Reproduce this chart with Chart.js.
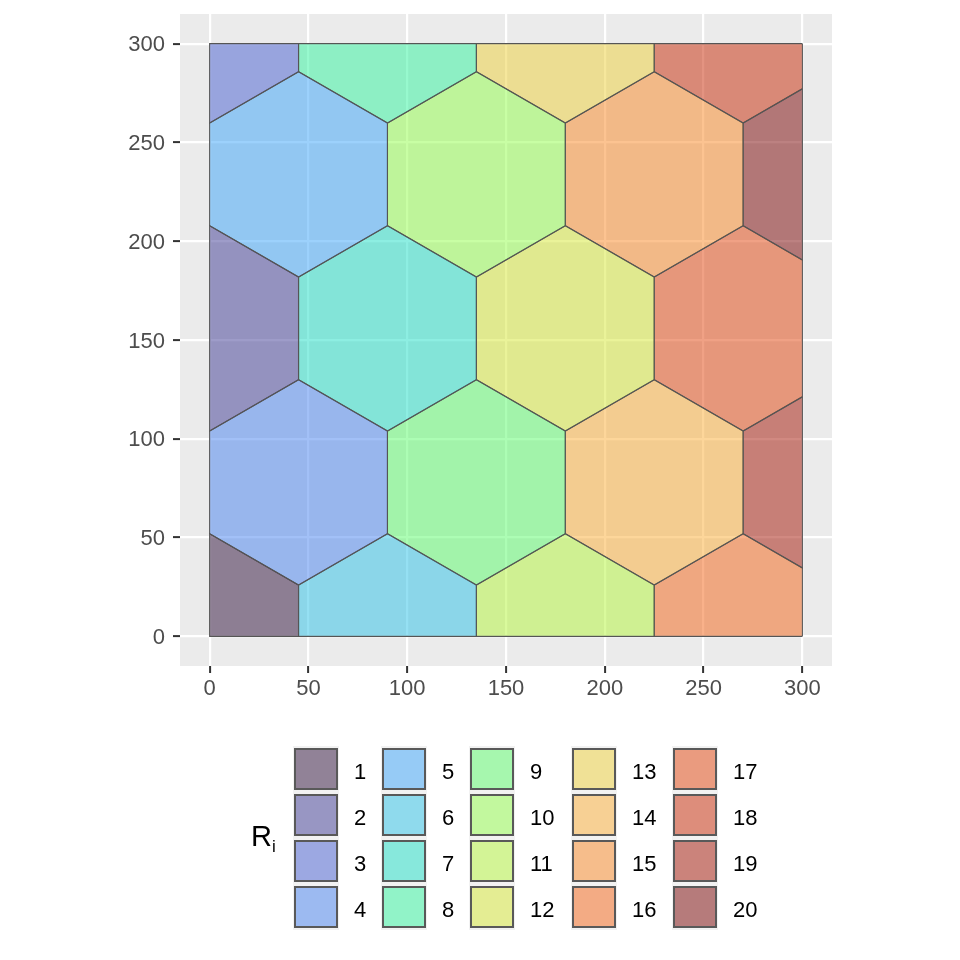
<!DOCTYPE html>
<html>
<head>
<meta charset="utf-8">
<script src="https://cdn.jsdelivr.net/npm/chart.js@4.4.1/dist/chart.umd.min.js"></script>
<style>
  html, body { margin: 0; padding: 0; background: #ffffff; }
  #wrap { position: relative; width: 960px; height: 960px; overflow: hidden;
          font-family: "Liberation Sans", Arial, sans-serif; }
  #chart { position: absolute; left: 0; top: 0; }
  .cell { position: absolute; width: 46px; height: 46px; background: #F2F2F2; }
  .swatch { position: absolute; box-sizing: border-box; width: 44px; height: 42.5px;
            border: 2.5px solid #595959; }
  .lab { position: absolute; font-size: 22px; line-height: 46px; height: 46px; color: #000; white-space: nowrap; }
  #ttl { position: absolute; left: 251px; top: 822px; font-size: 29px; line-height: 29px; color: #000; white-space: nowrap; }
  #ttl span { font-size: 17px; position: relative; top: 6px; }
</style>
</head>
<body>
<div id="wrap">
  <canvas id="chart" width="960" height="960"></canvas>
  <div id="legend"></div>
</div>
<script>
// ---------------- data ----------------
const regionIds = [1, 2, 3, 4, 5, 6, 7, 8, 9, 10, 11, 12, 13, 14, 15, 16, 17, 18, 19, 20];
const centerX = [0, 0, 0, 45, 45, 90, 90, 90, 135, 135, 180, 180, 180, 225, 225, 270, 270, 270, 315, 315];
const centerY = [0, 155.88, 311.77, 77.94, 233.83, 0, 155.88, 311.77, 77.94, 233.83,
                 0, 155.88, 311.77, 77.94, 233.83, 0, 155.88, 311.77, 77.94, 233.83];
const cellSize = 90;            // hexagon width (flat-to-flat) in data units
const xLimits = [0, 300];
const yLimits = [0, 300];
const xTicks = [0, 50, 100, 150, 200, 250, 300];
const yTicks = [0, 50, 100, 150, 200, 250, 300];
const legendTitle = "R";
const legendSub = "i";
const regionColors = ["#30123B", "#3E3993", "#455ED2", "#4682F0", "#39A3F9", "#2CC2E8", "#1BDEC6", "#2FF39E",
                      "#5AFB6A", "#92FD49", "#B3F63A", "#D5E834", "#EED039", "#FBAE36", "#F98723", "#F36416",
                      "#E2440C", "#C82804", "#A31403", "#7A0403"];
const fillAlpha = 0.5;

// ---------------- helpers ----------------
function rgba(hex, a) {
  const n = parseInt(hex.slice(1), 16);
  return `rgba(${(n >> 16) & 255},${(n >> 8) & 255},${n & 255},${a})`;
}
function hexVertices(cx, cy) {
  const r = cellSize / Math.sqrt(3);
  const pts = [];
  for (let k = 0; k < 6; k++) {
    const a = (30 + 60 * k) * Math.PI / 180;
    pts.push({ x: cx + r * Math.cos(a), y: cy + r * Math.sin(a) });
  }
  return pts;
}
function clipAgainst(pts, inside, cross) {
  const out = [];
  for (let i = 0; i < pts.length; i++) {
    const cur = pts[i], prev = pts[(i + pts.length - 1) % pts.length];
    const cIn = inside(cur), pIn = inside(prev);
    if (cIn) { if (!pIn) out.push(cross(prev, cur)); out.push(cur); }
    else if (pIn) out.push(cross(prev, cur));
  }
  return out;
}
const atX = (a, b, x) => ({ x, y: a.y + (b.y - a.y) * (x - a.x) / (b.x - a.x) });
const atY = (a, b, y) => ({ x: a.x + (b.x - a.x) * (y - a.y) / (b.y - a.y), y });
function clipToBox(pts) {
  let p = pts;
  p = clipAgainst(p, q => q.x >= xLimits[0] - 1e-9, (a, b) => atX(a, b, xLimits[0]));
  p = clipAgainst(p, q => q.x <= xLimits[1] + 1e-9, (a, b) => atX(a, b, xLimits[1]));
  p = clipAgainst(p, q => q.y >= yLimits[0] - 1e-9, (a, b) => atY(a, b, yLimits[0]));
  p = clipAgainst(p, q => q.y <= yLimits[1] + 1e-9, (a, b) => atY(a, b, yLimits[1]));
  if (p.length) p.push({ x: p[0].x, y: p[0].y });
  return p;
}

const datasets = regionIds.map((id, i) => ({
  label: String(id),
  data: clipToBox(hexVertices(centerX[i], centerY[i])),
  showLine: true,
  fill: 'shape',
  backgroundColor: rgba(regionColors[i], fillAlpha),
  borderColor: '#555555',
  borderWidth: 1.1,
  pointRadius: 0,
  pointHoverRadius: 0,
  tension: 0
}));

const panelBg = {
  id: 'panelBg',
  beforeDraw(c) {
    const { ctx, chartArea: a } = c;
    ctx.save();
    ctx.fillStyle = '#EBEBEB';
    ctx.fillRect(a.left, a.top, a.right - a.left, a.bottom - a.top);
    ctx.restore();
  }
};

const tickFont = { family: '"Liberation Sans", Arial, sans-serif', size: 22 };
const range = xLimits[1] - xLimits[0];
const pad = range * 0.05;

new Chart(document.getElementById('chart'), {
  type: 'scatter',
  data: { datasets },
  plugins: [panelBg],
  options: {
    responsive: false,
    devicePixelRatio: 1,
    animation: false,
    events: [],
    layout: { padding: { left: 120, right: 128, top: 14, bottom: 244 } },
    plugins: { legend: { display: false }, tooltip: { enabled: false } },
    scales: {
      x: {
        type: 'linear',
        min: xLimits[0] - pad, max: xLimits[1] + pad,
        afterBuildTicks: ax => { ax.ticks = xTicks.map(v => ({ value: v })); },
        afterFit: ax => { ax.height = 50; ax.paddingLeft = 0; ax.paddingRight = 0; ax.paddingTop = 0; ax.paddingBottom = 0; },
        grid: { color: '#FFFFFF', lineWidth: 2.2, tickColor: '#333333', tickWidth: 2, tickLength: 7, drawTicks: true },
        border: { display: false },
        ticks: { color: '#4D4D4D', font: tickFont, padding: 3, maxRotation: 0, autoSkip: false }
      },
      y: {
        type: 'linear',
        min: yLimits[0] - pad, max: yLimits[1] + pad,
        afterBuildTicks: ax => { ax.ticks = yTicks.map(v => ({ value: v })); },
        afterFit: ax => { ax.width = 60; ax.paddingLeft = 0; ax.paddingRight = 0; ax.paddingTop = 0; ax.paddingBottom = 0; },
        grid: { color: '#FFFFFF', lineWidth: 2.2, tickColor: '#333333', tickWidth: 2, tickLength: 7, drawTicks: true },
        border: { display: false },
        ticks: { color: '#4D4D4D', font: tickFont, padding: 8, labelOffset: 1.5, autoSkip: false }
      }
    }
  }
});

// ---------------- legend (HTML) ----------------
const legend = document.getElementById('legend');
const ttl = document.createElement('div');
ttl.id = 'ttl';
ttl.innerHTML = legendTitle + '<span>' + legendSub + '</span>';
legend.appendChild(ttl);
const colLeft = [294, 382, 470, 572, 673];
const rowsPerCol = 4;
regionIds.forEach((id, i) => {
  const col = Math.floor(i / rowsPerCol), row = i % rowsPerCol;
  const left = colLeft[col], top = 747.7 + 46 * row;
  const cell = document.createElement('div');
  cell.className = 'cell';
  cell.style.left = (left - 1) + 'px';
  cell.style.top = (top - 2) + 'px';
  legend.appendChild(cell);
  const sw = document.createElement('div');
  sw.className = 'swatch';
  sw.style.left = left + 'px';
  sw.style.top = top + 'px';
  sw.style.background = rgba(regionColors[i], fillAlpha);
  legend.appendChild(sw);
  const lab = document.createElement('div');
  lab.className = 'lab';
  lab.style.left = (left + 60) + 'px';
  lab.style.top = (top + 1.5) + 'px';
  lab.textContent = String(id);
  legend.appendChild(lab);
});
</script>
</body>
</html>
